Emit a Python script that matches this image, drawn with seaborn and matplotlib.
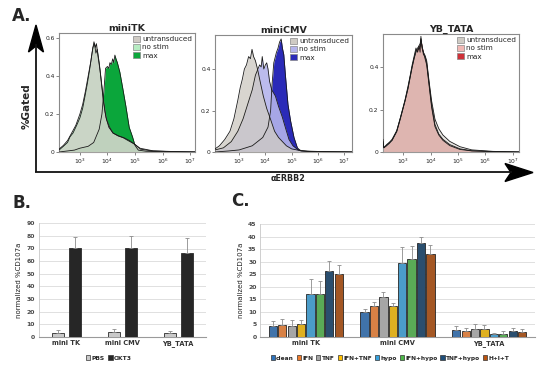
import numpy as np
import pandas as pd
import matplotlib
matplotlib.use("Agg")
import matplotlib.pyplot as plt
import seaborn as sns
from matplotlib.patches import Patch, Polygon

sns.set_theme(style="white")
plt.rcParams["font.family"] = ["DejaVu Sans"]

# ---------------- Panel A data (log10 fluorescence, fraction gated) ----------------
tk_untr_x = [2.24, 2.4, 2.55, 2.64, 2.75, 2.88, 3.0, 3.1, 3.18, 3.27, 3.36, 3.44, 3.51, 3.56, 3.6, 3.66,
             3.73, 3.79, 3.85, 3.91, 3.97, 4.08, 4.2, 4.38, 4.57, 4.75, 4.94, 5.18, 5.66, 6.3, 7.18]
tk_untr_y = [0.01, 0.03, 0.05, 0.08, 0.1, 0.14, 0.18, 0.23, 0.29, 0.36, 0.44, 0.52, 0.58, 0.55, 0.57, 0.5,
             0.43, 0.35, 0.27, 0.21, 0.17, 0.13, 0.1, 0.085, 0.075, 0.06, 0.045, 0.02, 0.006, 0.003, 0.0]
tk_nost_x = [2.24, 2.4, 2.55, 2.7, 2.85, 3.0, 3.1, 3.2, 3.3, 3.4, 3.47, 3.53, 3.58, 3.63, 3.7, 3.78,
             3.86, 3.95, 4.05, 4.2, 4.4, 4.6, 4.8, 5.0, 5.2, 5.6, 6.3, 7.18]
tk_nost_y = [0.015, 0.035, 0.06, 0.1, 0.14, 0.2, 0.25, 0.32, 0.4, 0.48, 0.55, 0.57, 0.52, 0.54, 0.47, 0.37,
             0.27, 0.18, 0.13, 0.1, 0.085, 0.075, 0.06, 0.04, 0.015, 0.006, 0.002, 0.0]
tk_max_x = [2.24, 2.8, 3.0, 3.3, 3.5, 3.7, 3.8, 3.87, 3.93, 4.0, 4.05, 4.09, 4.14, 4.19, 4.23, 4.27, 4.31,
            4.36, 4.45, 4.55, 4.67, 4.79, 4.91, 5.0, 5.12, 5.4, 6.0, 7.18]
tk_max_y = [0.0, 0.01, 0.02, 0.03, 0.05, 0.12, 0.2, 0.32, 0.44, 0.45, 0.44, 0.47, 0.46, 0.49, 0.47, 0.51,
            0.49, 0.47, 0.42, 0.34, 0.24, 0.13, 0.08, 0.035, 0.01, 0.004, 0.001, 0.0]

cmv_untr_x = [2.08, 2.25, 2.45, 2.65, 2.8, 2.95, 3.04, 3.12, 3.2, 3.28, 3.36, 3.43, 3.49, 3.55, 3.62, 3.7,
              3.8, 3.92, 4.05, 4.19, 4.35, 4.5, 4.65, 4.8, 5.0, 5.4, 6.2, 7.3]
cmv_untr_y = [0.015, 0.03, 0.06, 0.1, 0.16, 0.25, 0.31, 0.35, 0.4, 0.42, 0.46, 0.45, 0.495, 0.46, 0.44, 0.4,
              0.34, 0.27, 0.21, 0.16, 0.1, 0.07, 0.05, 0.03, 0.015, 0.005, 0.002, 0.0]
cmv_nost_x = [2.08, 2.4, 2.7, 2.95, 3.15, 3.35, 3.5, 3.62, 3.7, 3.78, 3.84, 3.88, 3.94, 4.0, 4.05, 4.1,
              4.16, 4.24, 4.38, 4.5, 4.64, 4.78, 4.9, 5.05, 5.25, 5.6, 7.3]
cmv_nost_y = [0.01, 0.02, 0.05, 0.1, 0.16, 0.24, 0.3, 0.37, 0.395, 0.42, 0.41, 0.46, 0.4, 0.42, 0.43, 0.4,
              0.34, 0.3, 0.27, 0.22, 0.17, 0.11, 0.06, 0.03, 0.01, 0.003, 0.0]
cmv_max_x = [2.08, 2.6, 3.0, 3.5, 3.9, 4.1, 4.2, 4.25, 4.32, 4.42, 4.48, 4.54, 4.6, 4.65, 4.7, 4.77, 4.86,
             4.96, 5.09, 5.22, 5.35, 6.0, 7.3]
cmv_max_y = [0.0, 0.005, 0.01, 0.03, 0.07, 0.12, 0.2, 0.32, 0.43, 0.48, 0.5, 0.53, 0.545, 0.5, 0.47, 0.36,
             0.23, 0.15, 0.07, 0.02, 0.005, 0.001, 0.0]

yb_x = [2.27, 2.3, 2.4, 2.5, 2.6, 2.77, 2.9, 3.07, 3.18, 3.25, 3.33, 3.4, 3.47, 3.53, 3.58, 3.62, 3.65,
        3.69, 3.74, 3.8, 3.86, 3.95, 4.04, 4.16, 4.3, 4.45, 4.7, 5.07, 5.5, 6.27, 7.22]
yb_untr_y = [0.06, 0.02, 0.035, 0.045, 0.06, 0.1, 0.16, 0.245, 0.31, 0.354, 0.41, 0.45, 0.49, 0.47, 0.5,
             0.47, 0.545, 0.49, 0.47, 0.455, 0.43, 0.33, 0.24, 0.155, 0.11, 0.08, 0.05, 0.025, 0.01, 0.003, 0.0]
yb_nost_y = [0.05, 0.02, 0.03, 0.045, 0.055, 0.1, 0.16, 0.24, 0.3, 0.35, 0.4, 0.44, 0.48, 0.48, 0.49,
             0.5, 0.535, 0.5, 0.46, 0.45, 0.42, 0.32, 0.22, 0.13, 0.085, 0.06, 0.035, 0.015, 0.006, 0.002, 0.0]
yb_max_y = [0.04, 0.02, 0.03, 0.04, 0.055, 0.095, 0.155, 0.24, 0.3, 0.345, 0.4, 0.44, 0.47, 0.49, 0.5,
            0.51, 0.53, 0.5, 0.47, 0.44, 0.41, 0.31, 0.21, 0.12, 0.08, 0.055, 0.03, 0.012, 0.005, 0.002, 0.0]

hist_labels = ["untransduced", "no stim", "max"]

# ---------------- Panel B data ----------------
b_categories = ["mini TK", "mini CMV", "YB_TATA"]
b_treatments = ["PBS", "OKT3"]
pbs_vals = [3.3, 4.0, 2.6]
pbs_errs = [2.3, 2.3, 1.6]
okt3_vals = [70.6, 70.1, 66.4]
okt3_errs = [8.2, 9.8, 11.7]

# ---------------- Panel C data ----------------
c_categories = ["mini TK", "mini CMV", "YB_TATA"]
c_conditions = ["clean", "IFN", "TNF", "IFN+TNF", "hypo", "IFN+hypo", "TNF+hypo", "H+I+T"]
tk_vals = [4.3, 4.7, 4.5, 5.2, 17.2, 17.2, 26.3, 25.1]
tk_errs = [2.0, 2.6, 2.4, 1.7, 6.0, 5.2, 4.1, 3.7]
cmv_vals = [9.9, 12.5, 16.0, 12.3, 29.6, 31.0, 37.4, 33.0]
cmv_errs = [1.4, 1.5, 2.0, 1.1, 6.2, 5.3, 2.6, 3.6]
yb_vals = [2.9, 2.5, 3.3, 3.1, 1.1, 1.3, 2.3, 2.1]
yb_errs = [1.4, 1.2, 2.0, 1.8, 0.5, 1.0, 1.3, 1.2]

c_colors = ["#2E73BC", "#F07C2D", "#A6A6A6", "#FFC000", "#36A2DE", "#4DB848", "#1F4E79", "#B9530F"]

W, H = 550, 370
fig = plt.figure(figsize=(5.5, 3.7), dpi=100)


def box(x0, y0, x1, y1):
    return [x0 / W, 1 - y1 / H, (x1 - x0) / W, (y1 - y0) / H]


def draw_hist(ax, curves, colors, xlim, ymax, yticks, title, alpha_untr, alpha_nost):
    # draw order: max (bottom), no stim, untransduced (top)
    layers = [(2, 1.0), (1, alpha_nost), (0, alpha_untr)]
    for z, (i, a) in enumerate(layers):
        lx, ly = curves[i]
        xs = 10 ** np.asarray(lx)
        ax.fill_between(xs, 0, ly, color=colors[i], alpha=a, lw=0, zorder=1 + z)
        sns.lineplot(x=xs, y=ly, ax=ax, color="#1a1a1a", lw=0.6, sort=False,
                     estimator=None, zorder=4 + z)
    ax.set_xscale("log")
    ax.set_xlim(10 ** xlim[0], 10 ** xlim[1])
    ax.set_ylim(0, ymax)
    ax.set_xticks([1e3, 1e4, 1e5, 1e6, 1e7])
    ax.set_yticks(yticks)
    ax.set_yticklabels([("0" if t == 0 else f"{t:.1f}") for t in yticks])
    ax.tick_params(axis="both", which="major", labelsize=4.3, length=2, width=0.5,
                   color="#555555", pad=1.2, labelcolor="#222222")
    ax.tick_params(axis="x", which="minor", length=1.2, width=0.4, color="#777777")
    ax.tick_params(axis="both", direction="out", bottom=True, left=True)
    ax.minorticks_on()
    ax.tick_params(axis="y", which="minor", left=False)
    for s in ax.spines.values():
        s.set_color("#8a8a8a")
        s.set_linewidth(0.8)
    ax.set_xlabel("")
    ax.set_ylabel("")
    ax.set_title(title, fontsize=6.8, fontweight="bold", pad=1.2)
    handles = [Patch(facecolor=colors[i], edgecolor="#888888", lw=0.5) for i in range(3)]
    ax.legend(handles, hist_labels, loc="upper right", frameon=False, fontsize=5.2,
              handlelength=1.0, handleheight=1.0, handletextpad=0.3, labelspacing=0.2,
              borderaxespad=0.15, borderpad=0.2)


axA1 = fig.add_axes(box(59, 33, 195, 152))
draw_hist(axA1, [(tk_untr_x, tk_untr_y), (tk_nost_x, tk_nost_y), (tk_max_x, tk_max_y)],
          ["#cfcbc4", "#b6ecc2", "#0ba63b"], (2.24, 7.18), 0.626, [0, 0.2, 0.4, 0.6], "miniTK",
          0.7, 0.85)
axA2 = fig.add_axes(box(215, 35, 352, 152))
draw_hist(axA2, [(cmv_untr_x, cmv_untr_y), (cmv_nost_x, cmv_nost_y), (cmv_max_x, cmv_max_y)],
          ["#cfcbc4", "#b4b4ec", "#2a2ab8"], (2.08, 7.3), 0.564, [0, 0.2, 0.4], "miniCMV",
          0.8, 0.9)
axA3 = fig.add_axes(box(383, 34, 519, 152))
draw_hist(axA3, [(yb_x, yb_untr_y), (yb_x, yb_nost_y), (yb_x, yb_max_y)],
          ["#cfcbc4", "#f2b8b4", "#cf3038"], (2.27, 7.22), 0.556, [0, 0.2, 0.4], "YB_TATA",
          0.45, 0.85)

# overlay for arrows
ov = fig.add_axes([0, 0, 1, 1], zorder=-5)
ov.set_xlim(0, W)
ov.set_ylim(H, 0)
ov.axis("off")
ov.plot([36, 36], [172, 44], color="#111111", lw=1.3, solid_capstyle="butt")
ov.plot([35.4, 512], [172, 172], color="#111111", lw=1.3, solid_capstyle="butt")
ov.add_patch(Polygon([[36, 25], [43.5, 52], [36, 46], [28.5, 52]], closed=True, color="#000000"))
ov.add_patch(Polygon([[533, 172.5], [505, 181.5], [511, 172.5], [505, 163.5]], closed=True,
                     color="#000000"))

fig.text(12 / W, 1 - 16 / H, "A.", fontsize=12, fontweight="bold", va="center", ha="left")
fig.text(27 / W, 1 - 106 / H, "%Gated", fontsize=7.5, fontweight="bold", rotation=90,
         va="center", ha="center")
fig.text(288 / W, 1 - 179 / H, "\u03b1ERBB2", fontsize=5.8, fontweight="bold", va="center",
         ha="center")

# ---------------- Panel B ----------------
fig.text(12 / W, 1 - 203 / H, "B.", fontsize=12, fontweight="bold", va="center", ha="left")
axB = fig.add_axes(box(38.5, 223.3, 206, 336.7))
df_b = pd.DataFrame({
    "category": b_categories * 2,
    "treatment": [b_treatments[0]] * 3 + [b_treatments[1]] * 3,
    "value": pbs_vals + okt3_vals,
})
b_colors = ["#c9c9c9", "#262626"]
sns.barplot(data=df_b, x="category", y="value", hue="treatment", order=b_categories,
            hue_order=b_treatments, palette=b_colors, width=0.61, gap=0.3, errorbar=None,
            edgecolor="#2a2a2a", linewidth=0.6, ax=axB, legend=False, zorder=3)
for cont, errs in zip(axB.containers, [pbs_errs, okt3_errs]):
    for bar, e in zip(cont, errs):
        axB.errorbar(bar.get_x() + bar.get_width() / 2, bar.get_height(), yerr=[[0], [e]],
                     fmt="none", ecolor="#8c8c8c", elinewidth=0.6, capsize=1.5, capthick=0.6,
                     zorder=4)

# ---------------- Panel C ----------------
fig.text(231 / W, 1 - 201 / H, "C.", fontsize=12, fontweight="bold", va="center", ha="left")
axC = fig.add_axes(box(260, 224, 535, 337))
df_c = pd.DataFrame({
    "category": [c for c in c_categories for _ in c_conditions],
    "condition": c_conditions * 3,
    "value": tk_vals + cmv_vals + yb_vals,
})
c_err_by_cond = [[tk_errs[i], cmv_errs[i], yb_errs[i]] for i in range(len(c_conditions))]
sns.barplot(data=df_c, x="category", y="value", hue="condition", order=c_categories,
            hue_order=c_conditions, palette=c_colors, width=0.82, gap=0.12, errorbar=None,
            edgecolor="#262626", linewidth=0.6, ax=axC, legend=False, zorder=3)
for cont, errs in zip(axC.containers, c_err_by_cond):
    for bar, e in zip(cont, errs):
        axC.errorbar(bar.get_x() + bar.get_width() / 2, bar.get_height(), yerr=[[0], [e]],
                     fmt="none", ecolor="#8c8c8c", elinewidth=0.6, capsize=1.3, capthick=0.6,
                     zorder=4)

for ax, ymax, step in [(axB, 90, 10), (axC, 45, 5)]:
    ax.set_xlim(-0.5, 2.5)
    ax.set_ylim(0, ymax)
    ax.set_yticks(np.arange(0, ymax + 1, step))
    ax.yaxis.grid(True, color="#dadada", lw=0.6)
    ax.xaxis.grid(False)
    ax.set_axisbelow(True)
    for s in ["top", "right"]:
        ax.spines[s].set_visible(False)
    ax.spines["left"].set_color("#c8c8c8")
    ax.spines["left"].set_linewidth(0.6)
    ax.spines["bottom"].set_color("#9a9a9a")
    ax.spines["bottom"].set_linewidth(0.8)
    ax.tick_params(axis="both", length=0, labelsize=4.4, pad=2.5, labelcolor="#4a4a4a")
    for lab in ax.get_yticklabels():
        lab.set_fontweight("bold")
    for lab in ax.get_xticklabels():
        lab.set_fontweight("bold")
        lab.set_fontsize(4.8)
        lab.set_color("#333333")
    ax.set_xlabel("")
    ax.set_ylabel("normalized %CD107a", fontsize=5, labelpad=3, color="#222222")

b_handles = [Patch(facecolor=c, edgecolor="#333333", lw=0.5) for c in b_colors]
fig.legend(b_handles, b_treatments, loc="center", bbox_to_anchor=(109 / W, 1 - 358 / H),
           ncol=2, frameon=False, handlelength=0.7, handleheight=0.7,
           handletextpad=0.25, columnspacing=0.6, prop={"weight": "bold", "size": 4.3})
c_handles = [Patch(facecolor=c, edgecolor="#333333", lw=0.5) for c in c_colors]
fig.legend(c_handles, c_conditions, loc="center", bbox_to_anchor=(390 / W, 1 - 358 / H),
           ncol=8, frameon=False, handlelength=0.7, handleheight=0.7,
           handletextpad=0.25, columnspacing=0.5, prop={"weight": "bold", "size": 4.2})

fig.savefig("out.png", dpi=100)
